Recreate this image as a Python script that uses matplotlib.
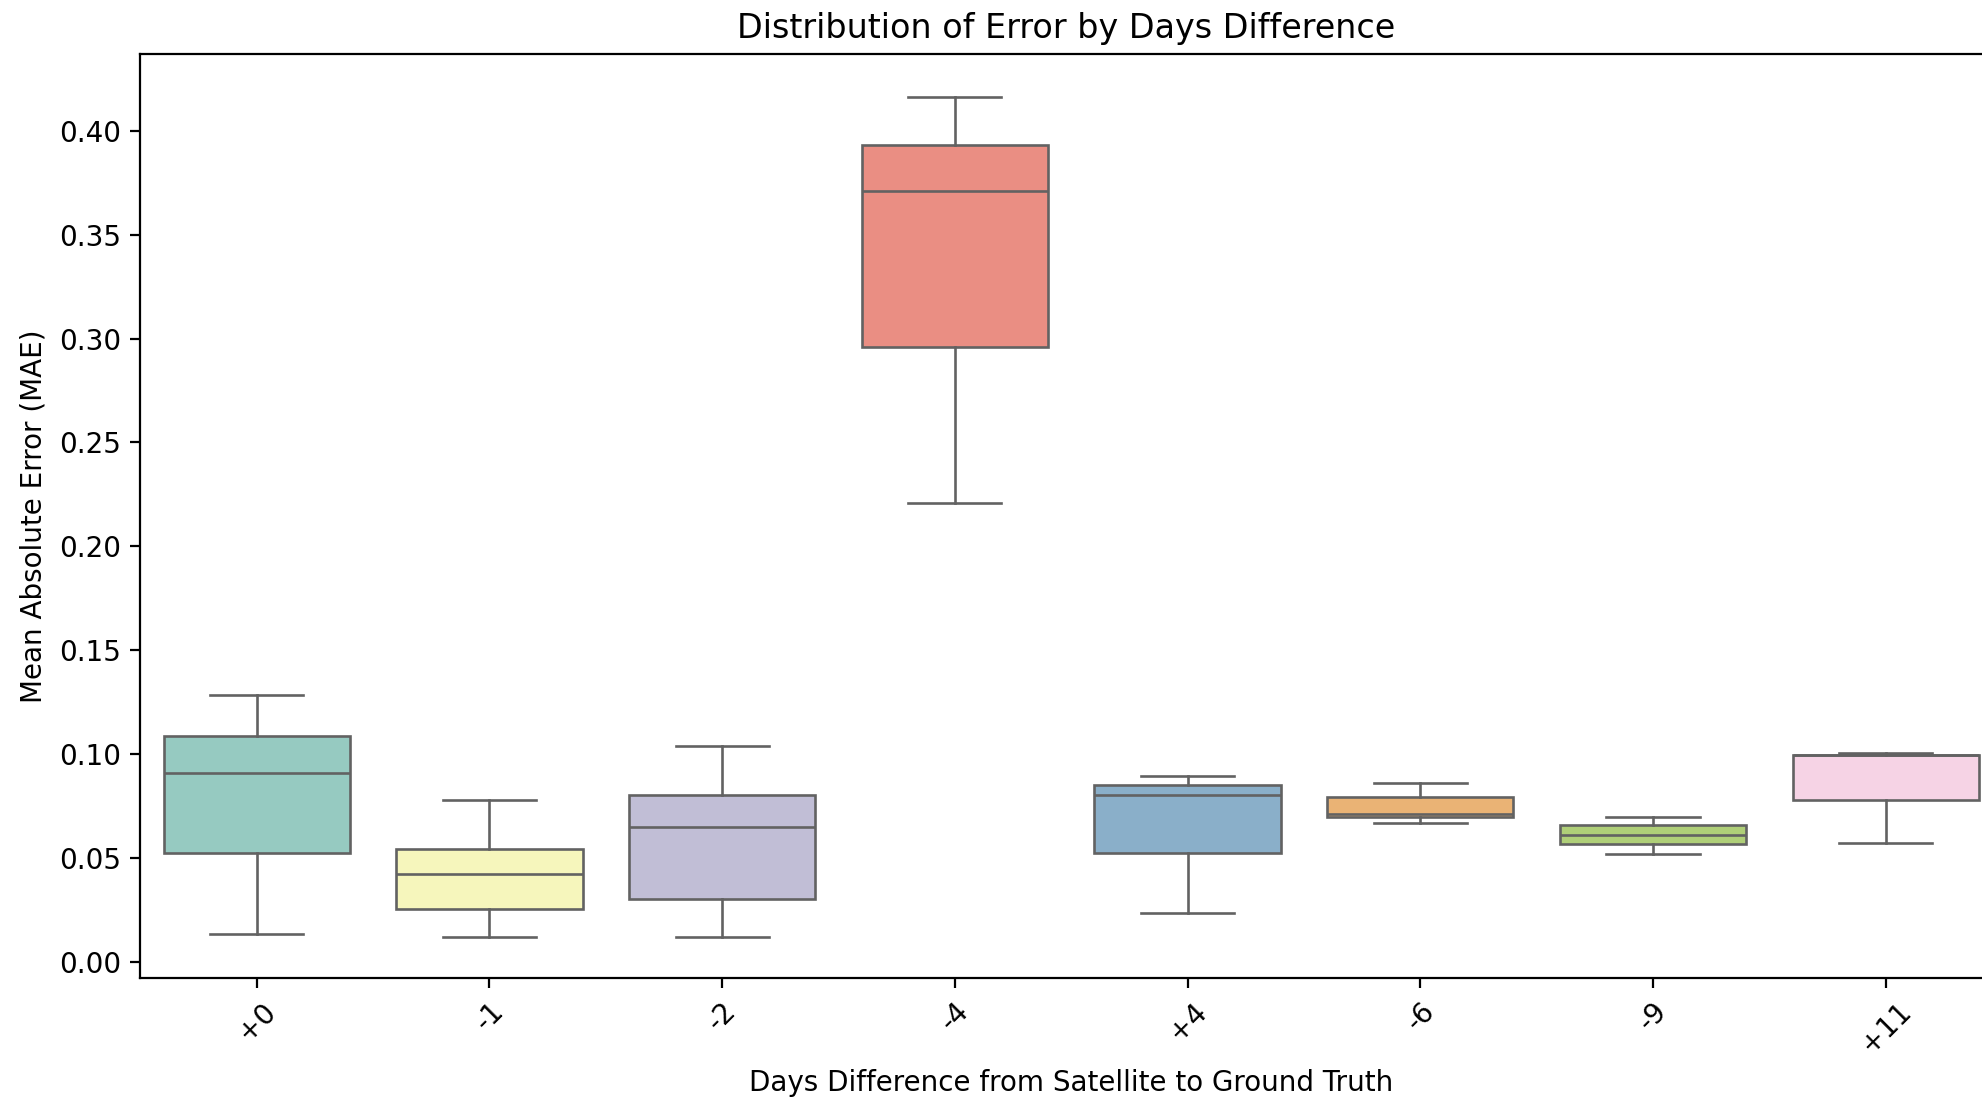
import colorsys

import matplotlib
matplotlib.use("Agg")
import matplotlib.pyplot as plt
import matplotlib.colors as mcolors

# categories and box statistics
days_labels = ["+0", "-1", "-2", "-4", "+4", "-6", "-9", "+11"]
whis_lo = [0.0134, 0.0117, 0.0117, 0.2207, 0.0232, 0.0667, 0.0520, 0.0570]
q1_vals = [0.0521, 0.0252, 0.0300, 0.2962, 0.0522, 0.0694, 0.0568, 0.0780]
medians = [0.0907, 0.0424, 0.0647, 0.3711, 0.0801, 0.0709, 0.0608, 0.0993]
q3_vals = [0.1088, 0.0540, 0.0800, 0.3932, 0.0849, 0.0793, 0.0657, 0.0994]
whis_hi = [0.1283, 0.0780, 0.1040, 0.4165, 0.0895, 0.0858, 0.0694, 0.1003]

set3 = ["#8dd3c7", "#ffffb3", "#bebada", "#fb8072",
        "#80b1d3", "#fdb462", "#b3de69", "#fccde5"]


def desaturate(c, prop=0.75):
	h, l, s = colorsys.rgb_to_hls(*mcolors.to_rgb(c))
	return colorsys.hls_to_rgb(h, l, s * prop)


box_colors = [desaturate(c) for c in set3]
line_gray = (0.385, 0.385, 0.385)

DPI = 200
fig = plt.figure(figsize=(1983 / DPI, 1099 / DPI), dpi=DPI)
# the reference is cropped on the right, so the axes run past the figure edge
ax = fig.add_axes([0.0708, 0.1105, 0.9388, 0.840])

stats = []
for i, lab in enumerate(days_labels):
	stats.append({
		"label": lab,
		"whislo": whis_lo[i],
		"q1": q1_vals[i],
		"med": medians[i],
		"q3": q3_vals[i],
		"whishi": whis_hi[i],
		"fliers": [],
	})

lw = 0.95
bp = ax.bxp(
	stats,
	positions=range(len(stats)),
	widths=0.8,
	capwidths=0.4,
	patch_artist=True,
	showfliers=False,
	boxprops=dict(edgecolor=line_gray, linewidth=lw),
	medianprops=dict(color=line_gray, linewidth=lw),
	whiskerprops=dict(color=line_gray, linewidth=lw),
	capprops=dict(color=line_gray, linewidth=lw),
)
for patch, col in zip(bp["boxes"], box_colors):
	patch.set_facecolor(col)

ax.set_xlim(-0.5, len(stats) - 0.5)
ax.set_ylim(-0.0077, 0.4369)
ax.set_yticks([0.0, 0.05, 0.10, 0.15, 0.20, 0.25, 0.30, 0.35, 0.40])
ax.set_yticklabels([f"{v:.2f}" for v in ax.get_yticks()])
ax.set_xticks(range(len(stats)))
ax.set_xticklabels(days_labels, rotation=45)

ax.set_title("Distribution of Error by Days Difference", x=0.497)
ax.set_xlabel("Days Difference from Satellite to Ground Truth")
ax.set_ylabel("Mean Absolute Error (MAE)")

fig.savefig("out.png", dpi=DPI)
